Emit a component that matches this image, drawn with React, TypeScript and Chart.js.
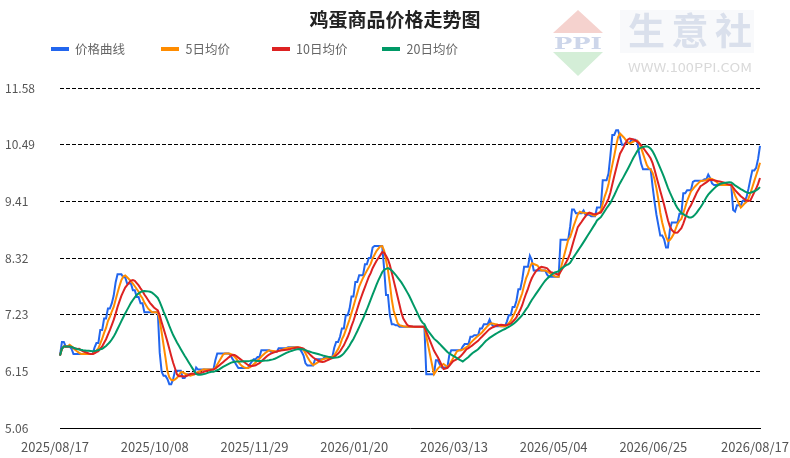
import React, { useEffect, useRef } from 'react';
import { Chart, registerables } from 'chart.js';

Chart.register(...registerables);

// ---------- data ----------
const START_UTC = Date.UTC(2025, 7, 17); // 2025/08/17

// daily egg price (价格曲线), 2025/08/17 .. 2026/08/17
const PRICE: number[] = [
  6.45, 6.71, 6.71, 6.62, 6.62, 6.62, 6.58, 6.48, 6.48, 6.48, // 0
  6.48, 6.48, 6.48, 6.48, 6.48, 6.48, 6.48, 6.48, 6.60, 6.69, // 10
  6.69, 6.94, 6.94, 7.16, 7.16, 7.35, 7.35, 7.45, 7.60, 7.85, // 20
  8.01, 8.01, 8.01, 7.95, 7.95, 7.83, 7.83, 7.83, 7.70, 7.70, // 30
  7.57, 7.57, 7.45, 7.45, 7.28, 7.28, 7.28, 7.28, 7.28, 7.28, // 40
  7.28, 7.28, 6.50, 6.14, 6.06, 6.06, 6.00, 5.90, 5.90, 6.00, // 50
  6.16, 6.16, 6.16, 6.16, 6.02, 6.02, 6.09, 6.09, 6.09, 6.09, // 60
  6.09, 6.22, 6.18, 6.18, 6.18, 6.18, 6.18, 6.18, 6.18, 6.18, // 70
  6.18, 6.36, 6.49, 6.49, 6.49, 6.49, 6.49, 6.49, 6.49, 6.45, // 80
  6.38, 6.33, 6.27, 6.21, 6.21, 6.21, 6.21, 6.21, 6.21, 6.28, // 90
  6.33, 6.38, 6.38, 6.42, 6.42, 6.55, 6.55, 6.55, 6.55, 6.55, // 100
  6.52, 6.52, 6.52, 6.52, 6.59, 6.59, 6.59, 6.59, 6.59, 6.61, // 110
  6.61, 6.61, 6.61, 6.61, 6.61, 6.58, 6.52, 6.45, 6.30, 6.26, // 120
  6.26, 6.26, 6.26, 6.38, 6.38, 6.38, 6.38, 6.38, 6.42, 6.42, // 130
  6.42, 6.42, 6.42, 6.60, 6.71, 6.71, 6.81, 6.97, 6.97, 7.22, // 140
  7.22, 7.35, 7.58, 7.58, 7.86, 7.86, 7.99, 7.99, 7.99, 8.20, // 150
  8.20, 8.32, 8.32, 8.52, 8.55, 8.55, 8.55, 8.55, 8.55, 8.12, // 160
  7.61, 7.61, 7.22, 7.05, 7.05, 7.03, 7.03, 7.00, 7.00, 7.00, // 170
  7.00, 7.00, 7.00, 7.00, 7.00, 7.00, 7.00, 7.00, 7.00, 7.00, // 180
  7.00, 6.09, 6.09, 6.09, 6.09, 6.09, 6.36, 6.36, 6.28, 6.22, // 190
  6.22, 6.22, 6.22, 6.46, 6.55, 6.55, 6.55, 6.55, 6.55, 6.55, // 200
  6.62, 6.67, 6.67, 6.67, 6.81, 6.81, 6.84, 6.84, 6.84, 6.97, // 210
  6.97, 7.05, 7.05, 7.05, 7.14, 7.05, 7.01, 7.01, 7.01, 7.01, // 220
  7.01, 7.01, 7.01, 7.10, 7.22, 7.22, 7.38, 7.38, 7.50, 7.72, // 230
  7.72, 7.90, 8.15, 8.15, 8.15, 8.36, 8.28, 8.08, 8.08, 8.08, // 240
  8.08, 8.08, 8.08, 8.08, 8.00, 7.96, 7.96, 7.96, 7.96, 7.96, // 250
  7.96, 8.67, 8.67, 8.67, 8.67, 8.67, 8.92, 9.25, 9.25, 9.18, // 260
  9.18, 9.18, 9.18, 9.23, 9.15, 9.15, 9.15, 9.12, 9.12, 9.12, // 270
  9.29, 9.29, 9.29, 9.81, 9.81, 9.81, 9.94, 10.29, 10.68, 10.68, // 280
  10.77, 10.77, 10.64, 10.49, 10.49, 10.53, 10.53, 10.53, 10.59, 10.59, // 290
  10.59, 10.55, 10.32, 10.13, 10.02, 10.02, 10.02, 10.02, 10.02, 9.69, // 300
  9.40, 9.15, 8.95, 8.75, 8.75, 8.68, 8.52, 8.52, 8.86, 9.00, // 310
  9.00, 9.00, 9.00, 9.17, 9.17, 9.56, 9.56, 9.62, 9.62, 9.62, // 320
  9.78, 9.80, 9.80, 9.80, 9.80, 9.80, 9.83, 9.83, 9.92, 9.85, // 330
  9.75, 9.72, 9.72, 9.72, 9.72, 9.72, 9.72, 9.72, 9.72, 9.72, // 340
  9.72, 9.24, 9.21, 9.33, 9.33, 9.33, 9.42, 9.42, 9.49, 9.65, // 350
  9.83, 10.00, 10.00, 10.05, 10.22, 10.47, // 360
];

const SERIES_NAMES = ['价格曲线', '5日均价', '10日均价', '20日均价'];
const MA_WINDOWS = [5, 10, 20];
const SERIES_COLORS = ['#2266EE', '#FF8C00', '#DD2222', '#009966'];

const Y_TICKS = [5.06, 6.15, 7.23, 8.32, 9.41, 10.49, 11.58];
const X_TICK_LABELS = [
  '2025/08/17', '2025/10/08', '2025/11/29', '2026/01/20',
  '2026/03/13', '2026/05/04', '2026/06/25', '2026/08/17',
];

const TITLE = '鸡蛋商品价格走势图';
const FONT = '"Noto Sans CJK SC", "Noto Sans", sans-serif';

function pad2(n: number) {
  return String(n).padStart(2, '0');
}

function buildDates(n: number): string[] {
  const out: string[] = [];
  for (let i = 0; i < n; i++) {
    const d = new Date(START_UTC + i * 86400000);
    out.push(`${d.getUTCFullYear()}/${pad2(d.getUTCMonth() + 1)}/${pad2(d.getUTCDate())}`);
  }
  return out;
}

function movingAverage(src: number[], n: number): number[] {
  return src.map((_, i) => {
    const s = Math.max(0, i - n + 1);
    let sum = 0;
    for (let j = s; j <= i; j++) sum += src[j];
    return sum / (i - s + 1);
  });
}

const DATES = buildDates(PRICE.length);

export default function App() {
  const canvasRef = useRef<HTMLCanvasElement | null>(null);

  useEffect(() => {
    const canvas = canvasRef.current;
    if (!canvas) return;
    const series = [PRICE, ...MA_WINDOWS.map((w) => movingAverage(PRICE, w))];
    const tickSet = new Set(X_TICK_LABELS);
    const innerTick = new Set(X_TICK_LABELS.slice(1, -1));

    const chart = new Chart(canvas, {
      type: 'line',
      data: {
        labels: DATES,
        datasets: series.map((data, i) => ({
          label: SERIES_NAMES[i],
          data,
          borderColor: SERIES_COLORS[i],
          backgroundColor: SERIES_COLORS[i],
          borderWidth: 2,
          pointRadius: 0,
          tension: 0,
          fill: false,
          order: series.length - 1 - i,
        })),
      },
      options: {
        animation: false,
        responsive: false,
        maintainAspectRatio: false,
        layout: { padding: { left: 5, right: 30, top: 88, bottom: 0 } },
        plugins: {
          legend: { display: false },
          title: { display: false },
          tooltip: { enabled: false },
        },
        scales: {
          x: {
            type: 'category',
            offset: false,
            grid: {
              drawOnChartArea: false,
              drawTicks: true,
              tickLength: 5,
              color: (ctx: any) => (innerTick.has(DATES[ctx.index]) ? '#000' : 'rgba(0,0,0,0)'),
            },
            border: { display: true, color: '#000', width: 1 },
            ticks: {
              autoSkip: false,
              maxRotation: 0,
              minRotation: 0,
              padding: 6,
              labelOffset: -5,
              color: '#555',
              font: { family: FONT, size: 13 },
              callback: (_v: any, idx: number) => (tickSet.has(DATES[idx]) ? DATES[idx] : null),
            },
            afterFit: (s: any) => {
              s.height = 30;
              s.paddingLeft = 0;
              s.paddingRight = 0;
            },
          },
          y: {
            min: Y_TICKS[0],
            max: Y_TICKS[Y_TICKS.length - 1],
            afterBuildTicks: (s: any) => {
              s.ticks = Y_TICKS.map((v) => ({ value: v }));
            },
            afterFit: (s: any) => {
              s.width = 55;
            },
            grid: {
              drawTicks: false,
              lineWidth: 1,
              color: (ctx: any) => (ctx.index === 0 ? 'rgba(0,0,0,0)' : '#000'),
            },
            border: { display: false, dash: [4, 2] },
            ticks: {
              crossAlign: 'far',
              padding: 0,
              color: '#555',
              font: { family: FONT, size: 12 },
              callback: (v: any) => Number(v).toFixed(2),
            },
          },
        },
      } as any,
    });
    return () => chart.destroy();
  }, []);

  const legendPitch = 110.5;
  const legendLeft = 50.6;

  return (
    <div style={{ position: 'absolute', left: 0, top: 0, width: 790, height: 458, background: '#fff', fontFamily: FONT }}>
      <canvas ref={canvasRef} width={790} height={458} style={{ position: 'absolute', left: 0, top: 0, display: 'block' }} />
      <div
        style={{
          position: 'absolute', left: 0, top: 7, width: 790, height: 24, lineHeight: '24px',
          textAlign: 'center', fontSize: 19, fontWeight: 700, color: '#222', whiteSpace: 'nowrap',
        }}
      >
        {TITLE}
      </div>
      {SERIES_NAMES.map((name, i) => (
        <div key={name}>
          <div
            style={{
              position: 'absolute', left: legendLeft + legendPitch * i, top: 46.5, width: 18, height: 4.5,
              background: SERIES_COLORS[i],
            }}
          />
          <div
            style={{
              position: 'absolute', left: legendLeft + legendPitch * i + 24.4, top: 40, height: 18, lineHeight: '18px',
              fontSize: 12.5, color: '#666', whiteSpace: 'nowrap',
            }}
          >
            {name}
          </div>
        </div>
      ))}
      <svg width={250} height={85} style={{ position: 'absolute', left: 540, top: 0 }}>
        <rect x={80} y={10} width={134} height={43} fill="#f8f9fb" />
        <polygon points="38,10 13,33 63,33" fill="#f5d2ce" />
        <text x={38} y={49} textAnchor="middle" fontFamily='"DejaVu Serif", serif' fontWeight={700} fontSize={17}
          fill="#cdd6ea" textLength={48} lengthAdjust="spacingAndGlyphs">PPI</text>
        <polygon points="13,52 63,52 38,76" fill="#d4eed7" />
        <text x={88} y={45} fontFamily={FONT} fontWeight={700} fontSize={37} fill="#dae0ec"
          textLength={124} lengthAdjust="spacing">生意社</text>
        <text x={88} y={72} fontFamily={FONT} fontSize={12} fill="#d9d9d9"
          textLength={124} lengthAdjust="spacingAndGlyphs">WWW.100PPI.COM</text>
      </svg>
    </div>
  );
}
